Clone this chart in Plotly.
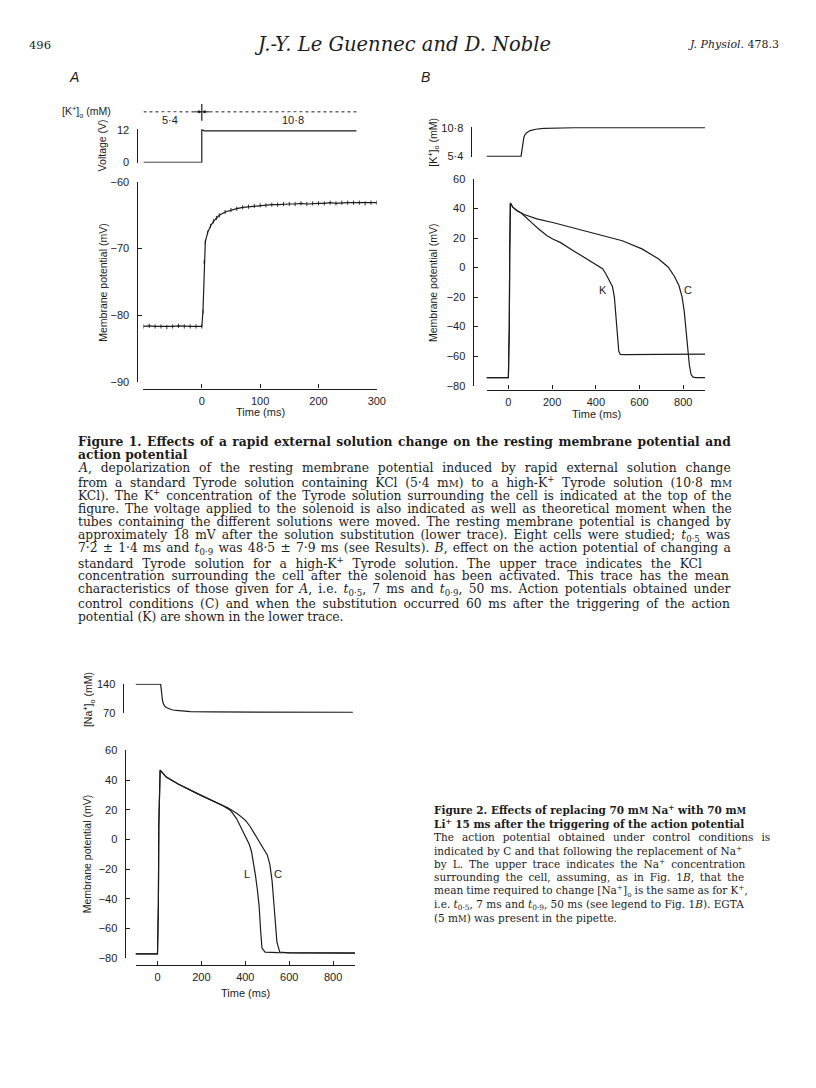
import plotly.graph_objects as go

# figure kept a little smaller than the 816x1088 window (body margin 8 px) so the page never scrolls
PAD = 8
W, H = 800, 1040
INK = "#1c1c1c"
SANS = "Liberation Sans, Arial, sans-serif"
SERIF = "DejaVu Serif, serif"


def px(x):
    return (x - PAD) / W


def py(y):
    return 1 - (y - PAD) / H


# ---- Figure 1A: solenoid voltage and resting potential
a_volt_t = [-100, 0, 0, 4, 265]
a_volt_v = [0, 0, 12.1, 11.6, 11.6]

a_mem_t = [-100, -90, -80, -70, -60, -50, -40, -30, -20, -10, 0, 2, 4, 6, 10, 15, 20, 25, 30,
           40, 50, 60, 70, 80, 90, 100, 110, 120, 130, 140, 150, 160, 170, 180, 190, 200,
           210, 220, 230, 240, 250, 260, 270, 280, 290, 300]
a_mem_v = [-81.7, -81.6, -81.7, -81.7, -81.8, -81.7, -81.6, -81.7, -81.7, -81.7, -81.7, -79.5,
           -72.0, -69.0, -67.6, -66.6, -65.9, -65.4, -65.0, -64.5, -64.2, -64.0, -63.8, -63.7,
           -63.6, -63.5, -63.5, -63.4, -63.4, -63.3, -63.3, -63.3, -63.2, -63.3, -63.2, -63.2,
           -63.2, -63.1, -63.2, -63.1, -63.1, -63.1, -63.1, -63.2, -63.1, -63.1]

# ---- Figure 1B: [K+]o and action potentials (C control, K high-K+)
b_k_t = [-100, 58, 61, 64, 67, 71, 76, 85, 100, 125, 160, 210, 300, 900]
b_k_v = [5.4, 5.4, 6.3, 7.4, 8.3, 9.0, 9.5, 9.9, 10.25, 10.5, 10.65, 10.75, 10.8, 10.8]

b_c_t = [-100, 0, 2, 4, 6, 9, 20, 40, 72, 130, 207, 342, 431, 521, 611, 686, 731, 760, 780,
         795, 805, 813, 820, 828, 836, 845, 858, 900]
b_c_v = [-74.5, -74.5, -55, -42, 10, 43.8, 41, 38.5, 36, 33, 30.4, 25.3, 21.6, 18.2, 12.7, 6,
         0.4, -6, -12, -20, -30, -42, -55, -66, -72.5, -74.2, -74.6, -74.6]

b_kk_t = [-100, 0, 2, 4, 6, 9, 20, 40, 60, 72, 90, 110, 140, 177, 205, 237, 297, 373, 431,
          445, 460, 476, 485, 490, 495, 499, 505, 512, 530, 700, 900]
b_kk_v = [-74.5, -74.5, -55, -42, 10, 43.8, 41, 38.5, 36.8, 35.3, 32.8, 30, 26, 21.6, 19.2,
          17.1, 11.5, 4.9, -0.7, -4, -8, -12.7, -20, -30, -42, -50.7, -56.5, -58.8, -59,
          -58.8, -58.6]

# ---- Figure 2: [Na+]o and action potentials (C control, L Li+)
f2_na_t = [-100, 14, 16, 18, 20, 23, 27, 32, 40, 50, 65, 85, 110, 150, 250, 400, 890]
f2_na_v = [140, 140, 132, 118, 108, 99, 92, 87, 83, 80, 77.5, 75.8, 74.5, 73.2, 72.2, 71.7, 71.5]

f2_c_t = [-100, 0, 2, 4, 6, 12, 40, 94, 184, 274, 320, 364, 400, 422, 445, 467, 485, 500,
          512, 522, 530, 538, 544, 557, 600, 900]
f2_c_v = [-77.3, -77.3, -60, -45, 10, 46.7, 42, 37.3, 30.7, 24.7, 21.3, 17.3, 13, 8.7, 3,
          -2.7, -6.5, -10.5, -17, -28, -42.7, -58, -69.3, -76, -76.6, -76.8]

f2_l_t = [-100, 0, 2, 4, 6, 12, 40, 94, 184, 274, 300, 333, 360, 378, 400, 418, 428, 437,
          446, 455, 463, 470, 476, 490, 550, 900]
f2_l_v = [-77.3, -77.3, -60, -45, 10, 46.7, 42, 37.3, 30.7, 24.7, 22.5, 19.5, 14, 8.7, 2.5,
          -3.3, -8, -15, -24, -34, -45, -62, -73.3, -76, -76.4, -76.5]

mem_ticks_a = [-90, -80, -70, -60]
mem_ticks = [-80, -60, -40, -20, 0, 20, 40, 60]
time_ticks_a = [0, 100, 200, 300]
time_ticks = [0, 200, 400, 600, 800]

fig = go.Figure()

line = dict(color=INK, width=1.2)
fig.add_trace(go.Scatter(x=a_volt_t, y=a_volt_v, mode="lines", line=line, xaxis="x", yaxis="y"))
fig.add_trace(go.Scatter(x=a_mem_t, y=a_mem_v, mode="lines+markers", line=line,
                         marker=dict(symbol="line-ns", size=3, line=dict(width=0.9, color=INK)),
                         xaxis="x2", yaxis="y2"))
fig.add_trace(go.Scatter(x=b_k_t, y=b_k_v, mode="lines", line=line, xaxis="x3", yaxis="y3"))
fig.add_trace(go.Scatter(x=b_c_t, y=b_c_v, mode="lines", line=line, xaxis="x4", yaxis="y4"))
fig.add_trace(go.Scatter(x=b_kk_t, y=b_kk_v, mode="lines", line=line, xaxis="x4", yaxis="y4"))
fig.add_trace(go.Scatter(x=f2_na_t, y=f2_na_v, mode="lines", line=line, xaxis="x5", yaxis="y5"))
fig.add_trace(go.Scatter(x=f2_c_t, y=f2_c_v, mode="lines", line=line, xaxis="x6", yaxis="y6"))
fig.add_trace(go.Scatter(x=f2_l_t, y=f2_l_v, mode="lines", line=line, xaxis="x6", yaxis="y6"))

ax = dict(showline=True, linecolor=INK, linewidth=1.3, ticks="inside", ticklen=4,
          tickwidth=1.2, tickcolor=INK, showgrid=False, zeroline=False, fixedrange=True,
          tickfont=dict(family=SANS, size=11, color=INK))
yax = dict(ax, ticklabelstandoff=5)
xax = dict(ax, ticklabelstandoff=2)

fig.update_layout(
    width=W, height=H, autosize=False,
    margin=dict(l=0, r=0, t=0, b=0),
    paper_bgcolor="white", plot_bgcolor="rgba(0,0,0,0)",
    showlegend=False,
    # A
    xaxis=dict(domain=[px(145), px(381)], range=[-100, 300], visible=False, anchor="y"),
    yaxis=dict(yax, domain=[py(158.5), py(124.5)], range=[-0.2, 12.2], anchor="free",
               position=px(138), tickvals=[0, 12]),
    xaxis2=dict(xax, domain=[px(145), px(381)], range=[-100, 300], anchor="free",
                position=py(387), tickvals=time_ticks_a),
    yaxis2=dict(yax, domain=[py(380), py(178)], range=[-90, -60], anchor="free",
                position=px(138), tickvals=mem_ticks_a),
    # B
    xaxis3=dict(domain=[px(492), px(713)], range=[-100, 900], visible=False, anchor="y3"),
    yaxis3=dict(yax, domain=[py(152.5), py(122.5)], range=[5.31, 10.89], anchor="free",
                position=px(476), tickvals=[5.4, 10.8], ticktext=["5·4", "10·8"]),
    xaxis4=dict(xax, domain=[px(492), px(713)], range=[-100, 900], anchor="free",
                position=py(388), tickvals=time_ticks),
    yaxis4=dict(yax, domain=[py(384), py(175)], range=[-80, 60], anchor="free",
                position=px(478), tickvals=mem_ticks),
    # Figure 2
    xaxis5=dict(domain=[px(137), px(359)], range=[-100, 900], visible=False, anchor="y5"),
    yaxis5=dict(yax, domain=[py(715.5), py(685.5)], range=[68.8, 141.2], anchor="free",
                position=px(124), tickvals=[70, 140]),
    xaxis6=dict(xax, domain=[px(137), px(359)], range=[-100, 900], anchor="free",
                position=py(970), tickvals=time_ticks),
    yaxis6=dict(yax, domain=[py(963), py(753)], range=[-80, 60], anchor="free",
                position=px(126), tickvals=mem_ticks),
)

ann = []


def text(t, x, y, size=11, family=SANS, angle=0, xanchor="center", **kw):
    ann.append(dict(text=t, x=px(x), y=py(y), xref="paper", yref="paper", showarrow=False,
                    textangle=angle, xanchor=xanchor, yanchor="middle",
                    font=dict(family=family, size=size, color=INK), **kw))


MM = "m<span style='font-size:80%'>M</span>"

# page header
text("496", 27, 39, 11.5, SERIF, xanchor="left")
text("<i>J.-Y. Le Guennec and D. Noble</i>", 407, 39, 19.5, SERIF)
text("<i>J. Physiol.</i> 478.3", 790, 39, 11, SERIF, xanchor="right")
text("<i>A</i>", 75, 72, 14)
text("<i>B</i>", 430, 72, 14)

# axis titles
text("Voltage (V)", 104, 141, 10.5, angle=-90)
text("Membrane potential (mV)", 104, 280, 10.5, angle=-90)
text("Time (ms)", 263, 411, 11)
text("[K<sup>+</sup>]<sub>o</sub> (mM)", 438, 138, 10.5, angle=-90)
text("Membrane potential (mV)", 438, 280, 10.5, angle=-90)
text("Time (ms)", 603, 413, 11)
text("[Na<sup>+</sup>]<sub>o</sub> (mM)", 90, 702, 10.5, angle=-90)
text("Membrane potential (mV)", 88, 858, 10.5, angle=-90)
text("Time (ms)", 248, 998, 11)

# K+ bar of panel A
text("[K<sup>+</sup>]<sub>o</sub> (mM)", 114, 107, 10.5, xanchor="right")
fig.add_shape(type="line", xref="x", yref="paper", x0=-100, x1=265, y0=py(107), y1=py(107),
              line=dict(color=INK, width=1, dash="dot"))
fig.add_shape(type="line", xref="x", yref="paper", x0=0, x1=0, y0=py(99), y1=py(116),
              line=dict(color=INK, width=1.2))
ann.append(dict(text="5·4", x=-55, y=py(107), xref="x", yref="paper", showarrow=False,
                bgcolor="white", font=dict(family=SANS, size=11, color=INK)))
ann.append(dict(text="10·8", x=156, y=py(107), xref="x", yref="paper", showarrow=False,
                bgcolor="white", font=dict(family=SANS, size=11, color=INK)))
for dx in (-9, 9):
    ann.append(dict(text="", x=0, y=py(107), xref="x", yref="paper", showarrow=True,
                    ax=dx, ay=0, arrowhead=2, arrowsize=0.7, arrowwidth=1, arrowcolor=INK))

# trace labels
text("K", 610, 287, 11)
text("C", 696, 287, 11)
text("L", 250, 878, 11)
text("C", 281, 878, 11)

# captions (word spacing stretches each line to the justified width)
cap1 = [
    "<b>Figure 1. Effects of a rapid external solution change on the resting membrane potential and</b>",
    "<b>action potential</b>",
    "<i>A</i>, depolarization of the resting membrane potential induced by rapid external solution change",
    f"from a standard Tyrode solution containing KCl (5·4 {MM}) to a high-K<sup>+</sup> Tyrode solution (10·8 {MM}",
    "KCl). The K<sup>+</sup> concentration of the Tyrode solution surrounding the cell is indicated at the top of the",
    "figure. The voltage applied to the solenoid is also indicated as well as theoretical moment when the",
    "tubes containing the different solutions were moved. The resting membrane potential is changed by",
    "approximately 18 mV after the solution substitution (lower trace). Eight cells were studied; <i>t</i><sub>0·5</sub> was",
    "7·2 ± 1·4 ms and <i>t</i><sub>0·9</sub> was 48·5 ± 7·9 ms (see Results). <i>B</i>, effect on the action potential of changing a",
    "standard Tyrode solution for a high-K<sup>+</sup> Tyrode solution. The upper trace indicates the KCl",
    "concentration surrounding the cell after the solenoid has been activated. This trace has the mean",
    "characteristics of those given for <i>A</i>, i.e. <i>t</i><sub>0·5</sub>, 7 ms and <i>t</i><sub>0·9</sub>, 50 ms. Action potentials obtained under",
    "control conditions (C) and when the substitution occurred 60 ms after the triggering of the action",
    "potential (K) are shown in the lower trace.",
]
cap1_ws = [1.2, 0, 5.0, 3.7, 1.9, 2.0, 2.1, 2.2, 1.3, 4.8, 2.9, 2.3, 2.7, 0]
for i, s in enumerate(cap1):
    text(f"<span style='word-spacing:{cap1_ws[i]}px'>{s}</span>", 77, 440 + 13.7 * i, 12.3,
         SERIF, xanchor="left")

cap2 = [
    f"<b>Figure 2. Effects of replacing 70 {MM} Na<sup>+</sup> with 70 {MM}</b>",
    "<b>Li<sup>+</sup> 15 ms after the triggering of the action potential</b>",
    "The action potential obtained under control conditions is",
    "indicated by C and that following the replacement of Na<sup>+</sup>",
    "by L. The upper trace indicates the Na<sup>+</sup> concentration",
    "surrounding the cell, assuming, as in Fig. 1<i>B</i>, that the",
    "mean time required to change [Na<sup>+</sup>]<sub>o</sub> is the same as for K<sup>+</sup>,",
    "i.e. <i>t</i><sub>0·5</sub>, 7 ms and <i>t</i><sub>0·9</sub>, 50 ms (see legend to Fig. 1<i>B</i>). EGTA",
    f"(5 {MM}) was present in the pipette.",
]
cap2_ws = [0, 0, 4.7, 0.2, 2.7, 2.5, -0.3, 0, 0]
for i, s in enumerate(cap2):
    text(f"<span style='word-spacing:{cap2_ws[i]}px'>{s}</span>", 437, 813 + 13.7 * i, 10.5,
         SERIF, xanchor="left")

fig.update_layout(annotations=ann)

fig.write_html("out.html")
